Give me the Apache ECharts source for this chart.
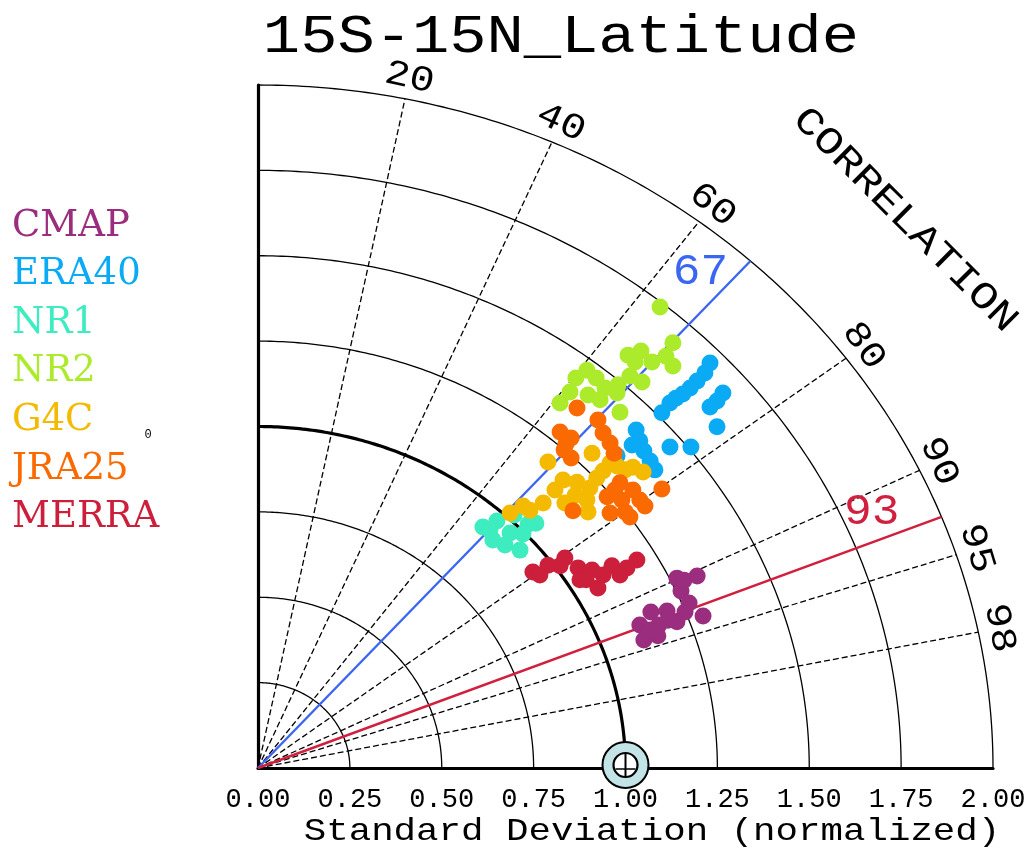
<!DOCTYPE html>
<html>
<head>
<meta charset="utf-8">
<script src="https://cdn.jsdelivr.net/npm/echarts@6/dist/echarts.min.js"></script>
<style>html,body{margin:0;padding:0;background:#fff;}#main{width:1033px;height:848px;}</style>
</head>
<body>
<div id="main"></div>
<script>
// ---------- data ----------
const titleText = '15S-15N_Latitude';
const axisTitle = 'Standard Deviation (normalized)';
const stdRings = [0.25, 0.5, 0.75, 1.0, 1.25, 1.5, 1.75, 2.0];
const corrTicks = [0.2, 0.4, 0.6, 0.8, 0.9, 0.95, 0.98];
const refCorr = [0.67, 0.93];
const refCorrColors = ['#3b66f2', '#d0203e'];
const seriesNames = ['CMAP', 'ERA40', 'NR1', 'NR2', 'G4C', 'JRA25', 'MERRA'];
const seriesColors = ['#9b2d7e', '#0aaaf4', '#3decbf', '#aceb2c', '#f4ba00', '#fb6a00', '#cc1f3c'];

// points as [x, y] in normalized std units (x = sd*corr, y = sd*sin)
const cmap = [[1.140,0.556],[1.195,0.562],[1.151,0.518],[1.173,0.483],[1.211,0.445],[1.069,0.457],
  [1.113,0.460],[1.039,0.419],[1.091,0.419],[1.140,0.428],[1.050,0.375],[1.088,0.387],
  [1.116,0.433],[1.162,0.457],[1.067,0.404],[1.159,0.550]];
const era40 = [[1.230,1.186],[1.216,1.157],[1.195,1.133],[1.176,1.113],[1.156,1.095],[1.265,1.098],
  [1.249,1.075],[1.230,1.057],[1.121,1.069],[1.099,1.040],[1.249,0.999],[1.029,0.990],[1.039,0.958],
  [1.050,0.928],[1.067,0.899],[1.080,0.873],[1.121,0.940],[1.178,0.940],[0.977,0.914],
  [1.018,0.946],[1.137,1.083]];
const nr1 = [[0.612,0.706],[0.650,0.723],[0.639,0.668],[0.686,0.688],[0.721,0.685],[0.756,0.717],
  [0.713,0.638],[0.697,0.741],[0.672,0.653],[0.631,0.697],[0.735,0.714]];
const nr2 = [[1.094,1.350],[1.129,1.245],[1.007,1.209],[1.042,1.221],[1.072,1.189],[1.129,1.177],
  [1.012,1.148],[1.045,1.130],[0.895,1.165],[0.865,1.142],[0.944,1.113],[0.931,1.078],[0.977,1.098],
  [0.822,1.069],[0.985,1.042],[0.898,1.092],[1.026,1.189],[0.980,1.122],[0.920,1.142],[0.849,1.101],
  [1.110,1.206]];
const g4c = [[0.789,0.896],[0.909,0.922],[0.686,0.747],[0.721,0.767],[0.776,0.776],[0.830,0.843],
  [0.868,0.837],[0.903,0.820],[0.895,0.785],[0.835,0.776],[0.939,0.870],[0.977,0.884],[1.020,0.881],
  [1.048,0.867],[0.922,0.849],[0.898,0.750],[0.863,0.799],[0.808,0.814],[0.958,0.893],[0.999,0.873],
  [0.740,0.755]];
const jra25 = [[0.868,1.054],[0.822,0.984],[0.852,0.966],[0.833,0.931],[0.852,0.908],[0.925,1.019],
  [0.939,0.981],[0.958,0.952],[0.969,0.922],[0.857,0.753],[0.950,0.794],[0.985,0.835],[1.020,0.814],
  [1.039,0.785],[0.958,0.747],[1.012,0.735],[1.053,0.767],[1.099,0.817],[0.990,0.785],
  [0.971,0.814],[0.999,0.750],[0.838,0.949]];
const merra = [[0.748,0.574],[0.789,0.594],[0.835,0.615],[0.871,0.586],[0.893,0.551],[0.925,0.527],
  [0.939,0.565],[0.963,0.592],[1.004,0.586],[1.031,0.609],[0.909,0.580],[0.822,0.592],[0.985,0.565],
  [0.876,0.551],[0.767,0.565]];
const seriesData = [cmap, era40, nr1, nr2, g4c, jra25, merra];
const refPoint = [[1.0, 0]];

// ---------- chart ----------
const chart = echarts.init(document.getElementById('main'), null, {renderer: 'canvas'});
const MONO = '"Liberation Mono", "DejaVu Sans Mono", monospace';
const SERIF = '"DejaVu Serif", "Liberation Serif", serif';

function arcItem(params, api) {
  const r = api.value(0);
  const pts = [];
  for (let a = 0; a <= 90; a += 0.5) {
    const t = a * Math.PI / 180;
    pts.push(api.coord([r * Math.cos(t), r * Math.sin(t)]));
  }
  return {type: 'polyline', silent: true, shape: {points: pts},
    style: {stroke: '#000', fill: null, lineWidth: r === 1 ? 3.2 : 1.3}};
}

function corrItem(params, api) {
  const c = api.value(0);
  const th = Math.acos(c);
  const p0 = api.coord([0, 0]);
  const p1 = api.coord([2 * Math.cos(th), 2 * Math.sin(th)]);
  const pl = api.coord([2.01 * Math.cos(th), 2.01 * Math.sin(th)]);
  const phi = Math.atan2(p0[1] - pl[1], pl[0] - p0[0]);
  return {type: 'group', silent: true, children: [
    {type: 'line', shape: {x1: p0[0], y1: p0[1], x2: p1[0], y2: p1[1]},
      style: {stroke: '#000', lineWidth: 1.3, lineDash: [6, 3]}},
    {type: 'text', x: pl[0], y: pl[1], rotation: -(Math.PI / 2 - phi), scaleX: 1.15,
      style: {text: String(Math.round(c * 100)), x: 0, y: 0, fill: '#000',
        font: '36px ' + MONO, align: 'center', verticalAlign: 'bottom',
        textAlign: 'center', textVerticalAlign: 'bottom'}}
  ]};
}

function refLineItem(params, api) {
  const c = api.value(0);
  const color = refCorrColors[params.dataIndex];
  const th = Math.acos(c);
  const p0 = api.coord([0, 0]);
  const p1 = api.coord([2 * Math.cos(th), 2 * Math.sin(th)]);
  const dx = p1[0] - p0[0], dy = p1[1] - p0[1];
  const L = Math.sqrt(dx * dx + dy * dy);
  const ux = dx / L, uy = dy / L;
  const nx = uy, ny = -ux;
  const lx = p0[0] + ux * 664 + nx * 28;
  const ly = p0[1] + uy * 664 + ny * 28;
  return {type: 'group', silent: true, children: [
    {type: 'line', shape: {x1: p0[0], y1: p0[1], x2: p1[0], y2: p1[1]},
      style: {stroke: color, lineWidth: 2.4}},
    {type: 'text', x: lx, y: ly, scaleX: 1.05,
      style: {text: String(Math.round(c * 100)), x: 0, y: 0, fill: color,
        font: '44px ' + MONO, align: 'center', verticalAlign: 'middle',
        textAlign: 'center', textVerticalAlign: 'middle'}}
  ]};
}

function refPointItem(params, api) {
  const p = api.coord([api.value(0), api.value(1)]);
  return {type: 'group', silent: true, children: [
    {type: 'circle', shape: {cx: p[0], cy: p[1] - 3, r: 23}, style: {fill: '#c2e4e6', stroke: '#000', lineWidth: 2}},
    {type: 'circle', shape: {cx: p[0], cy: p[1] - 3, r: 12}, style: {fill: '#fff', stroke: '#000', lineWidth: 2.2}},
    {type: 'line', shape: {x1: p[0], y1: p[1] - 15, x2: p[0], y2: p[1] + 8}, style: {stroke: '#000', lineWidth: 2}},
    {type: 'line', shape: {x1: p[0] - 10, y1: p[1] + 1, x2: p[0] + 10, y2: p[1] + 1}, style: {stroke: '#000', lineWidth: 1.5}}
  ]};
}

const series = [
  {type: 'custom', name: 'rings', renderItem: arcItem, data: stdRings.map(r => [r, 0]),
    encode: {x: 0, y: 1}, clip: false, z: 2, silent: true},
  {type: 'custom', name: 'corr', renderItem: corrItem, data: corrTicks.map(c => [c, 0]),
    encode: {x: 0, y: 1}, clip: false, z: 2, silent: true},
  {type: 'custom', name: 'refcorr', renderItem: refLineItem, data: refCorr.map(c => [c, 0]),
    encode: {x: 0, y: 1}, clip: false, z: 3, silent: true}
];
seriesNames.forEach((n, i) => {
  series.push({type: 'scatter', name: n, data: seriesData[i], symbol: 'circle', symbolSize: 17,
    itemStyle: {color: seriesColors[i], opacity: 1}, z: 4 + i * 0.01, silent: true});
});
series.push({type: 'custom', name: 'ref', renderItem: refPointItem, data: refPoint,
  encode: {x: 0, y: 1}, clip: false, z: 6, silent: true});

const graphics = [
  {type: 'text', x: 561, y: 38, scaleX: 1.15, z: 10,
    style: {text: titleText, font: '54px ' + MONO, fill: '#000', align: 'center', verticalAlign: 'middle',
      textAlign: 'center', textVerticalAlign: 'middle'}},
  {type: 'text', x: 652, y: 832, scaleX: 1.17, z: 10,
    style: {text: axisTitle, font: '32px ' + MONO, fill: '#000', align: 'center', verticalAlign: 'middle',
      textAlign: 'center', textVerticalAlign: 'middle'}},
  {type: 'text', x: 905, y: 220, rotation: -Math.PI / 4, scaleX: 1.2, z: 10,
    style: {text: 'CORRELATION', font: '38px ' + MONO, fill: '#000', align: 'center', verticalAlign: 'middle',
      textAlign: 'center', textVerticalAlign: 'middle'}},
  {type: 'text', x: 148, y: 435, z: 10,
    style: {text: '0', font: '12px ' + MONO, fill: '#000', align: 'center', verticalAlign: 'middle',
      textAlign: 'center', textVerticalAlign: 'middle'}}
];
seriesNames.forEach((n, i) => {
  graphics.push({type: 'text', x: 12, y: 226 + i * 48.6, z: 10,
    style: {text: n, font: '37px ' + SERIF, fill: seriesColors[i], align: 'left', verticalAlign: 'middle',
      textAlign: 'left', textVerticalAlign: 'middle'}});
});

const option = {
  backgroundColor: '#fff',
  animation: false,
  grid: {left: 258, top: 85, width: 735, height: 683, containLabel: false, outerBoundsMode: 'none'},
  xAxis: {type: 'value', min: 0, max: 2, interval: 0.25,
    axisLine: {show: true, onZero: false, lineStyle: {color: '#000', width: 3.2}},
    axisTick: {show: false}, splitLine: {show: false},
    axisLabel: {show: true, margin: 18, color: '#000', fontSize: 27, fontFamily: MONO,
      formatter: v => v.toFixed(2), showMinLabel: true, showMaxLabel: true, hideOverlap: false}},
  yAxis: {type: 'value', min: 0, max: 2, interval: 0.25,
    axisLine: {show: true, onZero: false, lineStyle: {color: '#000', width: 3.2}},
    axisTick: {show: false}, splitLine: {show: false}, axisLabel: {show: false}},
  series: series,
  graphic: graphics
};
chart.setOption(option);
</script>
</body>
</html>
